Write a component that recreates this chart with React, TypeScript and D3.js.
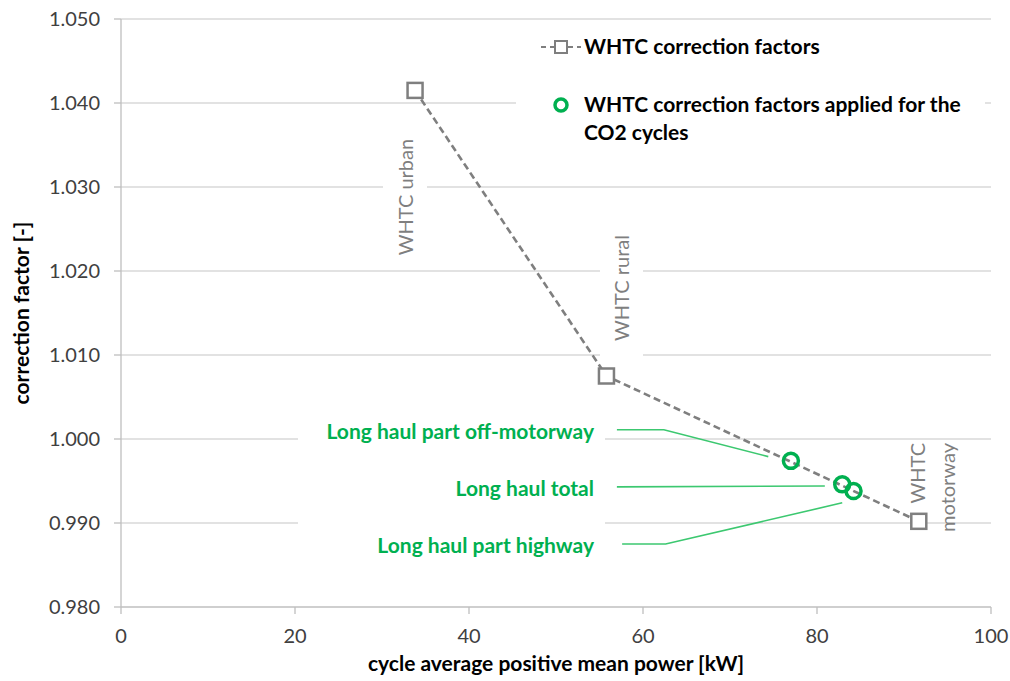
import React from "react";
import * as d3 from "d3";

// WHTC sub-cycle correction factors vs. cycle average positive power
const whtcCycles = ["WHTC urban", "WHTC rural", "WHTC motorway"];
const whtcPower = [33.8, 55.8, 91.7];
const whtcFactor = [1.0415, 1.0075, 0.9902];

// Factors interpolated for the CO2 (long haul) cycles
const co2Cycles = ["Long haul part off-motorway", "Long haul total", "Long haul part highway"];
const co2Power = [77.0, 82.9, 84.2];
const co2Factor = [0.9974, 0.9946, 0.9938];

// Leader lines from each long-haul label to its point, in data units
const leaderPower = [
  [57.0, 62.4, 74.4],
  [57.0, 80.9],
  [57.6, 62.6, 82.9],
];
const leaderFactor = [
  [1.0011, 1.0011, 0.9979],
  [0.9943, 0.9944],
  [0.9875, 0.9875, 0.9924],
];

const xTicks = [0, 20, 40, 60, 80, 100];
const yTicks = [0.98, 0.99, 1.0, 1.01, 1.02, 1.03, 1.04, 1.05];

const W = 1010;
const H = 681;
const FONT = "Lato, 'Open Sans', sans-serif";
const GREEN = "#00b050";
const LEADER = "#3cc870";
const GREY = "#7f7f7f";
const FS = 20;
const FSB = 21;

export default function App() {
  const x = d3.scaleLinear().domain([0, 100]).range([121, 991]);
  const y = d3.scaleLinear().domain([0.98, 1.05]).range([607, 19]);

  const pts = whtcPower.map((p, i) => [x(p), y(whtcFactor[i])] as [number, number]);
  const dashed = d3.line()(pts) ?? "";
  const leader = d3.line();

  const sq = 15;

  return (
    <div style={{ position: "absolute", left: 0, top: 0 }}>
      <svg width={W} height={H} style={{ display: "block", background: "#fff" }} fontFamily={FONT}>
        {/* horizontal gridlines */}
        {yTicks.slice(1).map((t) => (
          <line key={t} x1={x(0)} x2={x(100)} y1={y(t)} y2={y(t)} stroke="#d9d9d9" strokeWidth={1.3} />
        ))}

        {/* white backgrounds behind labels interrupt the gridlines */}
        <rect x={516} y={30} width={469} height={118} fill="#fff" />
        <rect x={383} y={128} width={44} height={138} fill="#fff" />
        <rect x={600} y={236} width={43} height={130} fill="#fff" />
        <rect x={298} y={412} width={307} height={155} fill="#fff" />

        {/* axes */}
        <line x1={x(0)} x2={x(0)} y1={y(1.05)} y2={y(0.98)} stroke="#bfbfbf" strokeWidth={1.3} />
        <line x1={x(0)} x2={x(100)} y1={y(0.98)} y2={y(0.98)} stroke="#bfbfbf" strokeWidth={1.3} />
        {yTicks.map((t) => (
          <g key={t}>
            <line x1={x(0) - 7} x2={x(0)} y1={y(t)} y2={y(t)} stroke="#bfbfbf" strokeWidth={1.3} />
            <text x={100} y={y(t)} dy="0.35em" textAnchor="end" fontSize={FS} fill="#404040">
              {d3.format(".3f")(t)}
            </text>
          </g>
        ))}
        {xTicks.map((t) => (
          <g key={t}>
            <line x1={x(t)} x2={x(t)} y1={y(0.98)} y2={y(0.98) + 7} stroke="#bfbfbf" strokeWidth={1.3} />
            <text x={x(t)} y={636} dy="0.35em" textAnchor="middle" fontSize={FS} fill="#404040">
              {t}
            </text>
          </g>
        ))}

        {/* axis titles */}
        <text x={(x(0) + x(100)) / 2} y={664} dy="0.35em" textAnchor="middle" fontSize={FSB} fontWeight="bold" fill="#000">
          cycle average positive mean power [kW]
        </text>
        <text
          transform={`translate(22,${(y(0.98) + y(1.05)) / 2}) rotate(-90)`}
          dy="0.35em"
          textAnchor="middle"
          fontSize={FSB}
          fontWeight="bold"
          fill="#000"
        >
          correction factor [-]
        </text>

        {/* rotated cycle labels */}
        <text transform="translate(406,197) rotate(-90)" dy="0.35em" textAnchor="middle" fontSize={FS} fill={GREY}>
          {whtcCycles[0]}
        </text>
        <text transform="translate(622,288) rotate(-90)" dy="0.35em" textAnchor="middle" fontSize={FS} fill={GREY}>
          {whtcCycles[1]}
        </text>
        <text transform="translate(918,443) rotate(-90)" dy="0.35em" textAnchor="end" fontSize={FS} fill={GREY}>
          WHTC
        </text>
        <text transform="translate(948,443) rotate(-90)" dy="0.35em" textAnchor="end" fontSize={FS} fill={GREY}>
          motorway
        </text>

        {/* leader lines and long-haul labels */}
        {leaderPower.map((ps, i) => (
          <path
            key={i}
            d={leader(ps.map((p, j) => [x(p), y(leaderFactor[i][j])] as [number, number])) ?? ""}
            fill="none"
            stroke={LEADER}
            strokeWidth={1.6}
          />
        ))}
        {co2Cycles.map((c, i) => (
          <text
            key={c}
            x={594}
            y={y(leaderFactor[i][0]) + 2}
            dy="0.35em"
            textAnchor="end"
            fontSize={FSB}
            fontWeight="bold"
            fill={GREEN}
          >
            {c}
          </text>
        ))}

        {/* WHTC series */}
        <path d={dashed} fill="none" stroke={GREY} strokeWidth={2.6} strokeDasharray="7,4" />
        {pts.map(([px, py], i) => (
          <rect key={i} x={px - sq / 2} y={py - sq / 2} width={sq} height={sq} fill="#fff" stroke={GREY} strokeWidth={2.5} />
        ))}

        {/* CO2 cycle points */}
        {co2Power.map((p, i) => (
          <circle key={i} cx={x(p)} cy={y(co2Factor[i])} r={7.5} fill="none" stroke={GREEN} strokeWidth={3.5} />
        ))}

        {/* legend */}
        <g>
          <line x1={541} x2={581} y1={47} y2={47} stroke={GREY} strokeWidth={2} strokeDasharray="5,4" />
          <rect x={555} y={41} width={12} height={12} fill="#fff" stroke={GREY} strokeWidth={2} />
          <text x={584} y={47} dy="0.35em" fontSize={FSB} fontWeight="bold" fill="#000">
            WHTC correction factors
          </text>
          <circle cx={561} cy={105} r={6} fill="none" stroke={GREEN} strokeWidth={3.5} />
          <text x={584} y={105} dy="0.35em" fontSize={FSB} fontWeight="bold" fill="#000">
            WHTC correction factors applied for the
          </text>
          <text x={584} y={133} dy="0.35em" fontSize={FSB} fontWeight="bold" fill="#000">
            CO2 cycles
          </text>
        </g>
      </svg>
    </div>
  );
}
